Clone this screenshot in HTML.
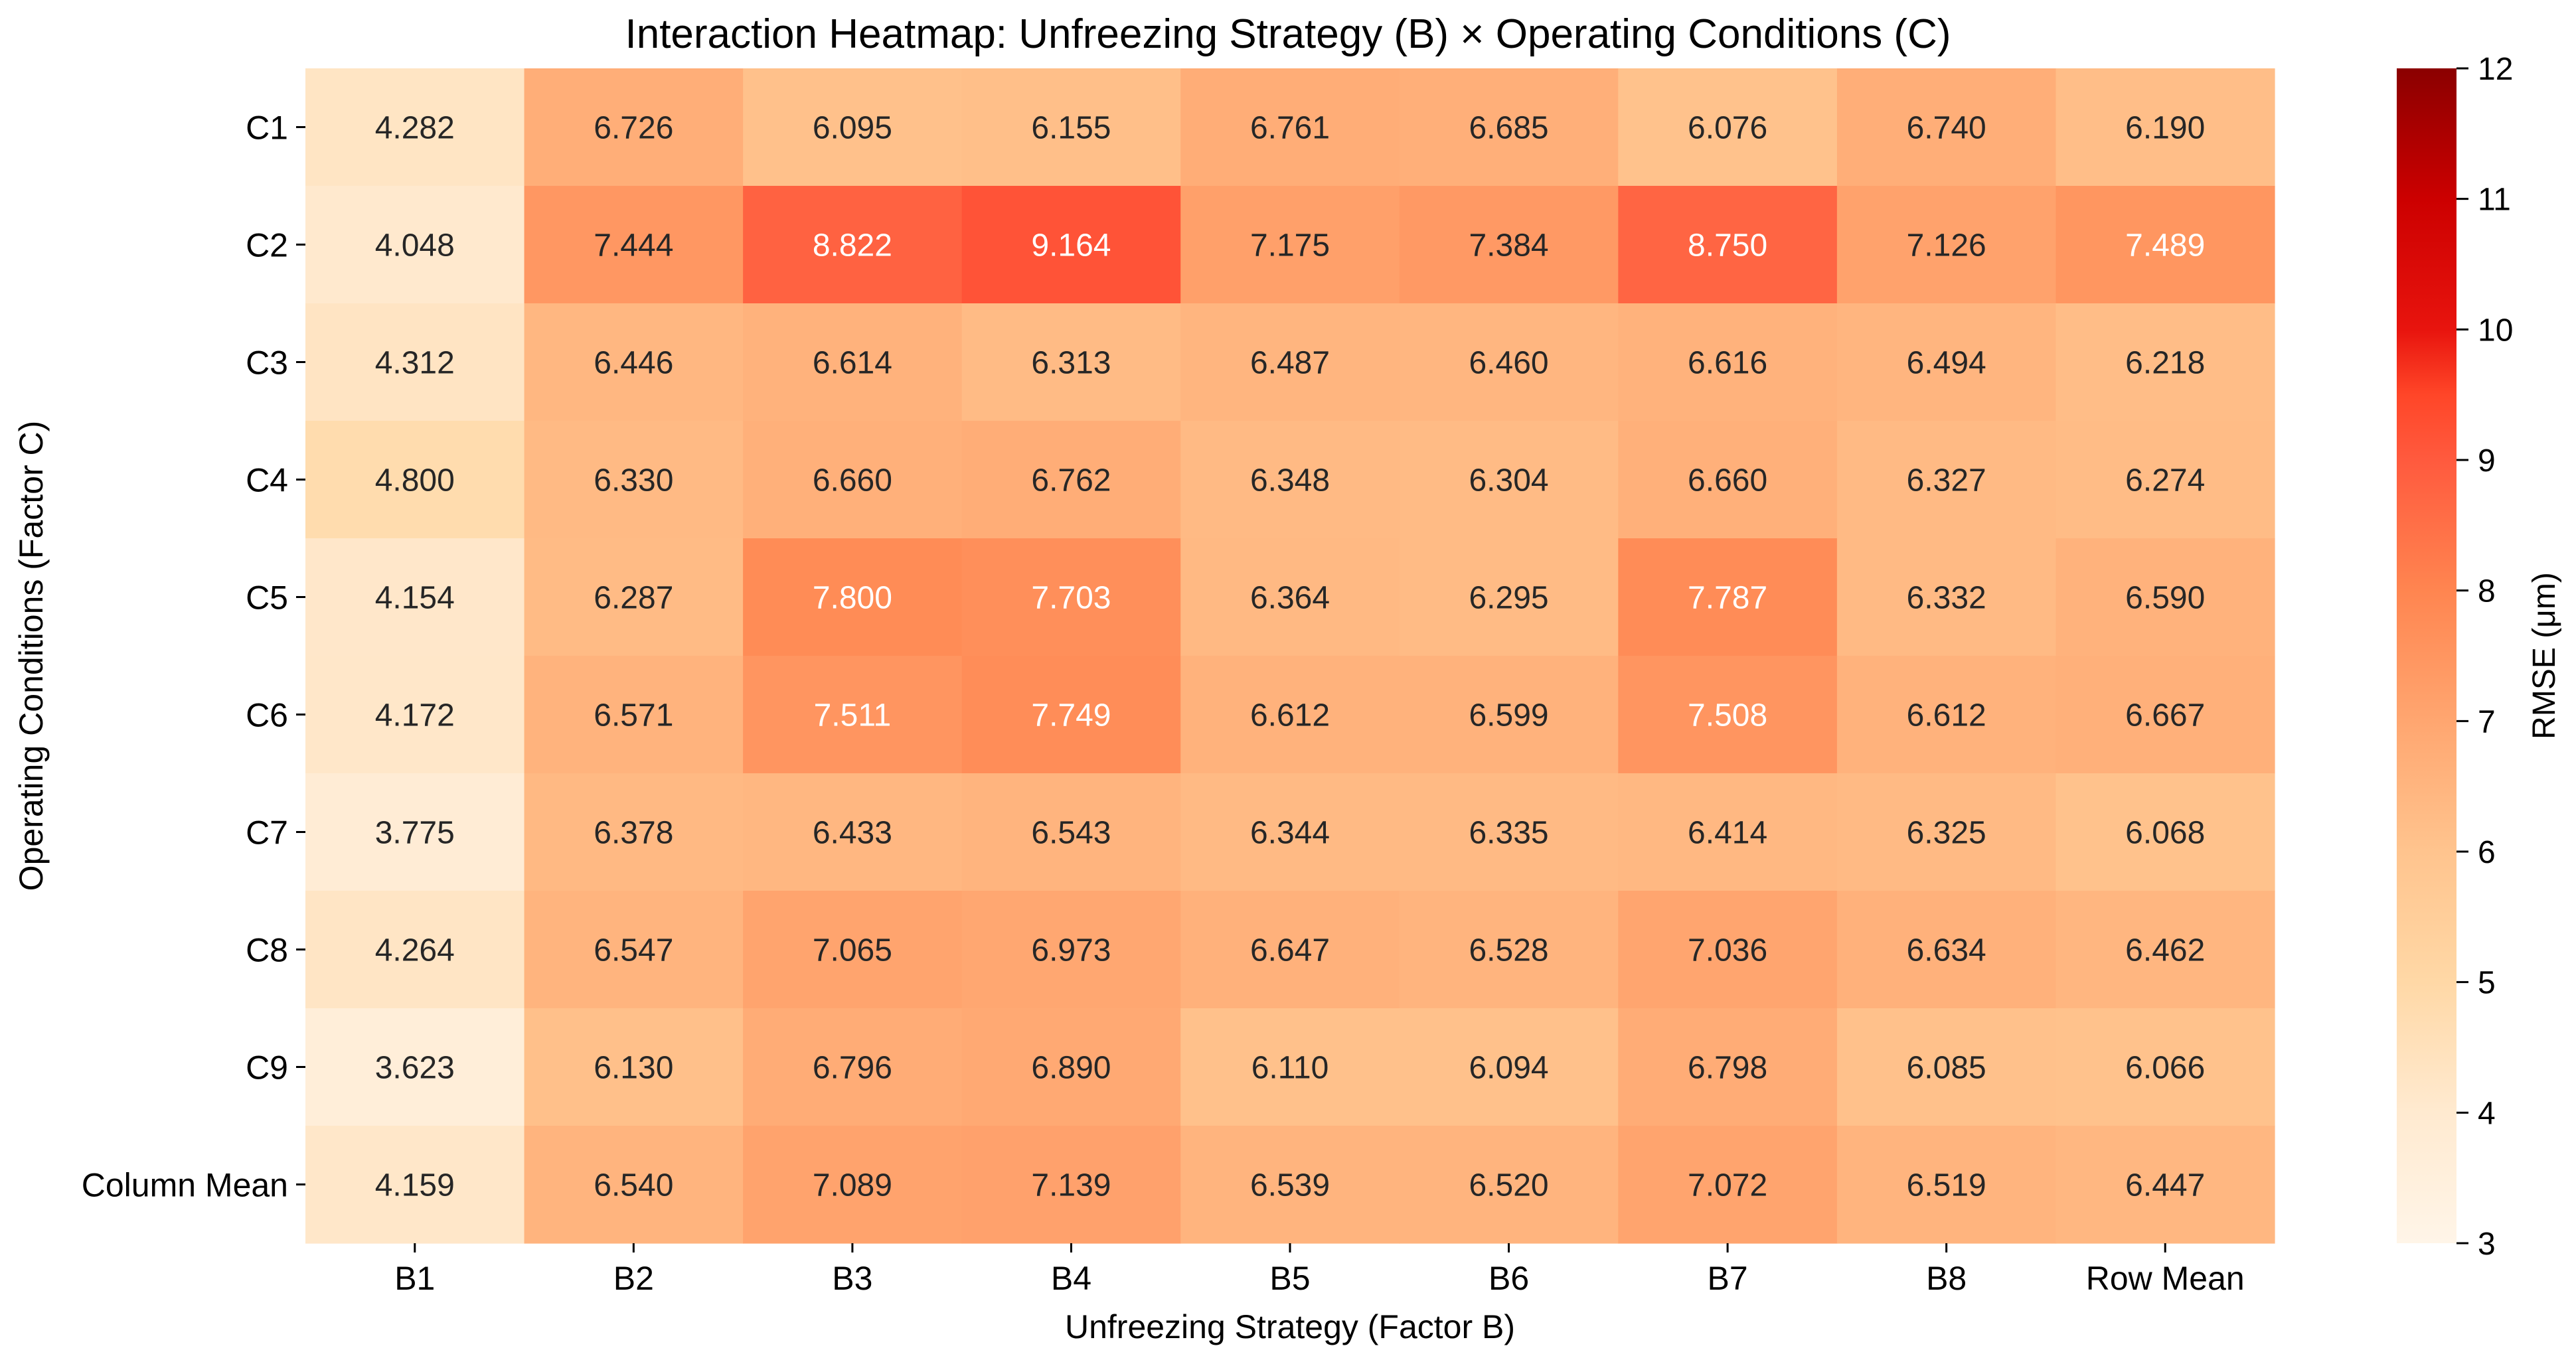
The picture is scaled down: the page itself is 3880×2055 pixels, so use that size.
<!DOCTYPE html>
<html><head><meta charset="utf-8"><style>
html,body{margin:0;padding:0;background:#fff}
svg{display:block;font-family:"Liberation Sans",sans-serif}
</style></head><body>
<svg id="chart" width="3880" height="2055" viewBox="0 0 3880 2055">
<defs><linearGradient id="cbgrad" x1="0" y1="1" x2="0" y2="0"></linearGradient></defs>
<text x="1940" y="72" text-anchor="middle" font-size="62" fill="#000">Interaction Heatmap: Unfreezing Strategy (B) × Operating Conditions (C)</text>
<g id="cells"></g>
<g id="yaxis"></g>
<g id="xaxis"></g>
<text x="1943" y="2016" text-anchor="middle" font-size="50">Unfreezing Strategy (Factor B)</text>
<text transform="translate(64,988) rotate(-90)" text-anchor="middle" font-size="50">Operating Conditions (Factor C)</text>
<rect x="3610" y="103" width="90" height="1770" fill="url(#cbgrad)"/>
<g id="cbaxis"></g>
<text transform="translate(3848,988) rotate(-90)" text-anchor="middle" font-size="48">RMSE (μm)</text>
</svg>
<script>
const rowLabels = ["C1","C2","C3","C4","C5","C6","C7","C8","C9","Column Mean"];
const colLabels = ["B1","B2","B3","B4","B5","B6","B7","B8","Row Mean"];
const rowC1 = [4.282,6.726,6.095,6.155,6.761,6.685,6.076,6.740,6.190];
const rowC2 = [4.048,7.444,8.822,9.164,7.175,7.384,8.750,7.126,7.489];
const rowC3 = [4.312,6.446,6.614,6.313,6.487,6.460,6.616,6.494,6.218];
const rowC4 = [4.800,6.330,6.660,6.762,6.348,6.304,6.660,6.327,6.274];
const rowC5 = [4.154,6.287,7.800,7.703,6.364,6.295,7.787,6.332,6.590];
const rowC6 = [4.172,6.571,7.511,7.749,6.612,6.599,7.508,6.612,6.667];
const rowC7 = [3.775,6.378,6.433,6.543,6.344,6.335,6.414,6.325,6.068];
const rowC8 = [4.264,6.547,7.065,6.973,6.647,6.528,7.036,6.634,6.462];
const rowC9 = [3.623,6.130,6.796,6.890,6.110,6.094,6.798,6.085,6.066];
const rowMean = [4.159,6.540,7.089,7.139,6.539,6.520,7.072,6.519,6.447];
const cbTicks = [3,4,5,6,7,8,9,10,11,12];
const values = [rowC1,rowC2,rowC3,rowC4,rowC5,rowC6,rowC7,rowC8,rowC9,rowMean];

const vmin=3, vmax=12;
const X0=460, X1=3426, Y0=103, Y1=1873;
const cw=(X1-X0)/colLabels.length, ch=(Y1-Y0)/rowLabels.length;
const xPos=i=>X0+i*cw, yPos=j=>Y0+j*ch;
const cbY=v=>Y1-(v-vmin)/(vmax-vmin)*(Y1-Y0);
const stops=[[3,[255,245,232]],[4,[255,234,208]],[5,[255,216,166]],[6,[255,196,142]],[7,[255,166,112]],[8,[255,133,80]],[9,[255,90,62]],[9.5,[255,70,40]],[10,[232,20,14]],[11,[204,0,0]],[12,[139,0,0]]];
function color(v){
  v=Math.max(vmin,Math.min(vmax,v));
  for(let i=0;i<stops.length-1;i++){
    const [a,ca]=stops[i],[b,cb]=stops[i+1];
    if(v<=b){const t=(v-a)/(b-a);return 'rgb('+ca.map((c,k)=>Math.round(c+(cb[k]-c)*t)).join(',')+')';}
  }
  return 'rgb(139,0,0)';
}
const NS='http://www.w3.org/2000/svg';
function mk(tag,attrs,parent){const e=document.createElementNS(NS,tag);for(const k in attrs)e.setAttribute(k,attrs[k]);parent.appendChild(e);return e;}
const grad=document.getElementById('cbgrad');
stops.forEach(s=>{mk('stop',{offset:((s[0]-vmin)/(vmax-vmin)*100)+'%','stop-color':color(s[0])},grad);});
const cells=document.getElementById('cells');
values.forEach((row,j)=>{row.forEach((v,i)=>{
  const r=mk('rect',{x:xPos(i),y:yPos(j),width:cw+0.6,height:ch+0.6,fill:color(v)},cells);
  
  
  const t=mk('text',{x:xPos(i)+cw/2,y:yPos(j)+ch/2+17,'text-anchor':'middle','font-size':48,fill:v>7.45?'#fff':'#262626'},cells);
  t.textContent=v.toFixed(3);
  
  
});});
const ya=document.getElementById('yaxis');
rowLabels.forEach((l,j)=>{
  const y=yPos(j)+ch/2;
  mk('line',{x1:X0-14,x2:X0,y1:y,y2:y,stroke:'#000','stroke-width':3},ya);
  const t=mk('text',{x:X0-26,y:y+18,'text-anchor':'end','font-size':50},ya);
  t.textContent=l;
  
  
});
const xa=document.getElementById('xaxis');
colLabels.forEach((l,i)=>{
  const x=xPos(i)+cw/2;
  mk('line',{x1:x,x2:x,y1:Y1,y2:Y1+14,stroke:'#000','stroke-width':3},xa);
  const t=mk('text',{x:x,y:Y1+70,'text-anchor':'middle','font-size':50},xa);
  t.textContent=l;
  
  
});
const cba=document.getElementById('cbaxis');
cbTicks.forEach(v=>{
  const y=cbY(v);
  mk('line',{x1:3700,x2:3718,y1:y,y2:y,stroke:'#000','stroke-width':3},cba);
  const t=mk('text',{x:3732,y:y+17,'font-size':48},cba);
  t.textContent=v;
  
  
});
</script>
</body></html>
